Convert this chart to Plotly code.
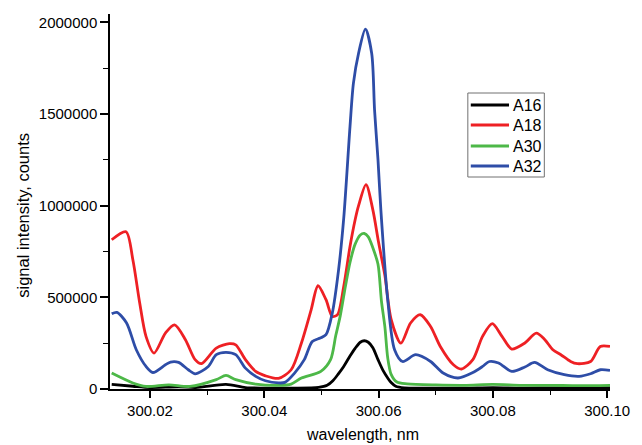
import plotly.graph_objects as go

# wavelength (nm) and signal intensity (counts)
a16_x = [300.0133, 300.0170, 300.0200, 300.0250, 300.0280, 300.0333, 300.0367, 300.0400,
         300.0450, 300.0495, 300.0510, 300.0520, 300.0529, 300.0539, 300.0550, 300.0559,
         300.0568, 300.0575, 300.0582, 300.0590, 300.0599, 300.0608, 300.0616, 300.0622,
         300.0630, 300.0645, 300.0700, 300.0750, 300.0800, 300.0850, 300.0900, 300.0950, 300.1005]
a16_y = [25000, 15000, 8000, 12000, 8000, 25000, 8000, 5000,
         5000, 9000, 20000, 45000, 80000, 123000, 180000, 222000,
         255000, 263000, 255000, 225000, 160000, 100000, 60000, 35000,
         15000, 6000, 5000, 5000, 8000, 5000, 6000, 6000, 8000]

a18_x = [300.0133, 300.0158, 300.0170, 300.0182, 300.0193, 300.0207, 300.0227, 300.0243,
         300.0262, 300.0279, 300.0290, 300.0316, 300.0339, 300.0350, 300.0367, 300.0385,
         300.0402, 300.0425, 300.0447, 300.0465, 300.0482, 300.0494, 300.0508, 300.0519,
         300.0528, 300.0539, 300.0550, 300.0559, 300.0565, 300.0578, 300.0590, 300.0600,
         300.0611, 300.0622, 300.0639, 300.0656, 300.0673, 300.0691, 300.0708, 300.0731,
         300.0745, 300.0765, 300.0782, 300.0799, 300.0816, 300.0833, 300.0856, 300.0876,
         300.0891, 300.0905, 300.0919, 300.0936, 300.0948, 300.0971, 300.0988, 300.1005]
a18_y = [814000, 858000, 705000, 469000, 287000, 196000, 305000, 350000,
         269000, 160000, 138000, 223000, 247000, 241000, 160000, 96000,
         72000, 58000, 105000, 251000, 432000, 563000, 487000, 396000,
         405000, 559000, 777000, 923000, 1000000, 1115000, 977000, 800000,
         620000, 380000, 250000, 360000, 405000, 341000, 232000, 132000,
         109000, 160000, 287000, 356000, 287000, 218000, 251000, 305000,
         269000, 214000, 187000, 150000, 138000, 150000, 232000, 232000]

a30_x = [300.0133, 300.0170, 300.0193, 300.0233, 300.0270, 300.0316, 300.0333, 300.0350,
         300.0385, 300.0425, 300.0447, 300.0465, 300.0499, 300.0516, 300.0525, 300.0533,
         300.0542, 300.0550, 300.0559, 300.0568, 300.0575, 300.0582, 300.0590, 300.0599,
         300.0605, 300.0611, 300.0616, 300.0622, 300.0632, 300.0650, 300.0700, 300.0750,
         300.0800, 300.0850, 300.0900, 300.0950, 300.1005]
a30_y = [87000, 33000, 14000, 23000, 14000, 51000, 74000, 51000,
         27000, 20000, 27000, 60000, 96000, 160000, 290000, 400000,
         560000, 690000, 790000, 840000, 848000, 830000, 770000, 680000,
         480000, 340000, 170000, 80000, 38000, 28000, 22000, 20000,
         25000, 20000, 20000, 18000, 20000]

a32_x = [300.0133, 300.0142, 300.0159, 300.0176, 300.0193, 300.0205, 300.0227, 300.0236,
         300.0250, 300.0267, 300.0279, 300.0302, 300.0316, 300.0333, 300.0350, 300.0367,
         300.0385, 300.0402, 300.0425, 300.0436, 300.0453, 300.0470, 300.0484, 300.0498,
         300.0508, 300.0519, 300.0530, 300.0539, 300.0550, 300.0556, 300.0565, 300.0577,
         300.0588, 300.0593, 300.0599, 300.0604, 300.0616, 300.0628, 300.0642, 300.0665,
         300.0691, 300.0713, 300.0739, 300.0765, 300.0782, 300.0794, 300.0810, 300.0833,
         300.0856, 300.0873, 300.0896, 300.0925, 300.0951, 300.0971, 300.0988, 300.1005]
a32_y = [410000, 418000, 360000, 214000, 123000, 90000, 132000, 147000,
         145000, 105000, 83000, 123000, 187000, 200000, 187000, 114000,
         69000, 45000, 33000, 36000, 87000, 160000, 259000, 278000,
         296000, 414000, 650000, 930000, 1431000, 1668000, 1831000, 1962000,
         1830000, 1520000, 1250000, 977000, 487000, 214000, 150000, 187000,
         150000, 87000, 60000, 90000, 123000, 150000, 142000, 96000,
         120000, 145000, 105000, 78000, 69000, 83000, 105000, 101000]

series_names = ["A16", "A18", "A30", "A32"]
series_x = [a16_x, a18_x, a30_x, a32_x]
series_y = [a16_y, a18_y, a30_y, a32_y]
series_colors = ["#000000", "#EE2024", "#4DB848", "#2E4DA7"]

y_ticks = [0, 500000, 1000000, 1500000, 2000000]
x_ticks = [300.02, 300.04, 300.06, 300.08, 300.10]
x_tick_labels = ["300.02", "300.04", "300.06", "300.08", "300.10"]

# plot area in pixels: left 110, right 620, top 14, bottom 389
L, R, T, B = 110, 620, 14, 389
def px(x):
    return (x - L) / (R - L)
def py(y):
    return (B - y) / (B - T)

fig = go.Figure()
for name, xs, ys, col in zip(series_names, series_x, series_y, series_colors):
    fig.add_trace(go.Scatter(x=xs, y=ys, name=name, mode="lines", showlegend=False,
                             line=dict(color=col, width=2.8, shape="spline", smoothing=0.8)))

font_family = "Liberation Sans, Arial, sans-serif"

# legend drawn as a box with sample lines and labels
shapes = [dict(type="rect", xref="paper", yref="paper",
               x0=px(475), x1=px(553), y0=py(177), y1=py(93),
               line=dict(color="#707070", width=1), fillcolor="white", layer="above")]
annotations = []
legend_rows = [105, 125, 146, 166]
for name, col, row in zip(series_names, series_colors, legend_rows):
    shapes.append(dict(type="line", xref="paper", yref="paper",
                       x0=px(478), x1=px(517), y0=py(row), y1=py(row),
                       line=dict(color=col, width=2.8), layer="above"))
    annotations.append(dict(text=name, showarrow=False, xref="paper", yref="paper",
                            x=px(519), y=py(row), xanchor="left", yanchor="middle",
                            font=dict(size=16, family=font_family)))

annotations += [
    dict(text="signal intensity, counts", textangle=-90, showarrow=False,
         xref="paper", yref="paper", x=px(21), y=py(215),
         xanchor="center", yanchor="middle", font=dict(size=16.5)),
    dict(text="wavelength, nm", showarrow=False,
         xref="paper", yref="paper", x=px(368), y=py(434),
         xanchor="center", yanchor="middle", font=dict(size=16)),
]

fig.update_layout(
    width=642, height=445,
    margin=dict(l=L, r=642 - R, t=T, b=445 - B),
    paper_bgcolor="white", plot_bgcolor="white",
    font=dict(family=font_family, size=15, color="#000000"),
    showlegend=False,
    xaxis=dict(range=[300.0130, 300.1005], tickvals=x_ticks, ticktext=x_tick_labels,
               showline=True, linecolor="black", linewidth=1.5,
               ticks="outside", ticklen=7, tickwidth=1.5, tickcolor="black",
               showgrid=False, zeroline=False,
               minor=dict(dtick=0.01, tick0=300.0, ticks="outside", ticklen=4,
                          tickwidth=1.2, tickcolor="black", showgrid=False),
               tickfont=dict(size=15)),
    yaxis=dict(range=[0, 2045000], tickvals=y_ticks, tickformat="d",
               showline=True, linecolor="black", linewidth=1.5,
               ticks="outside", ticklen=8, tickwidth=1.5, tickcolor="black",
               showgrid=False, zeroline=False,
               minor=dict(dtick=250000, tick0=0, ticks="outside", ticklen=5,
                          tickwidth=1.2, tickcolor="black", showgrid=False),
               tickfont=dict(size=15)),
    shapes=shapes,
    annotations=annotations,
)

fig.write_html("out.html")
